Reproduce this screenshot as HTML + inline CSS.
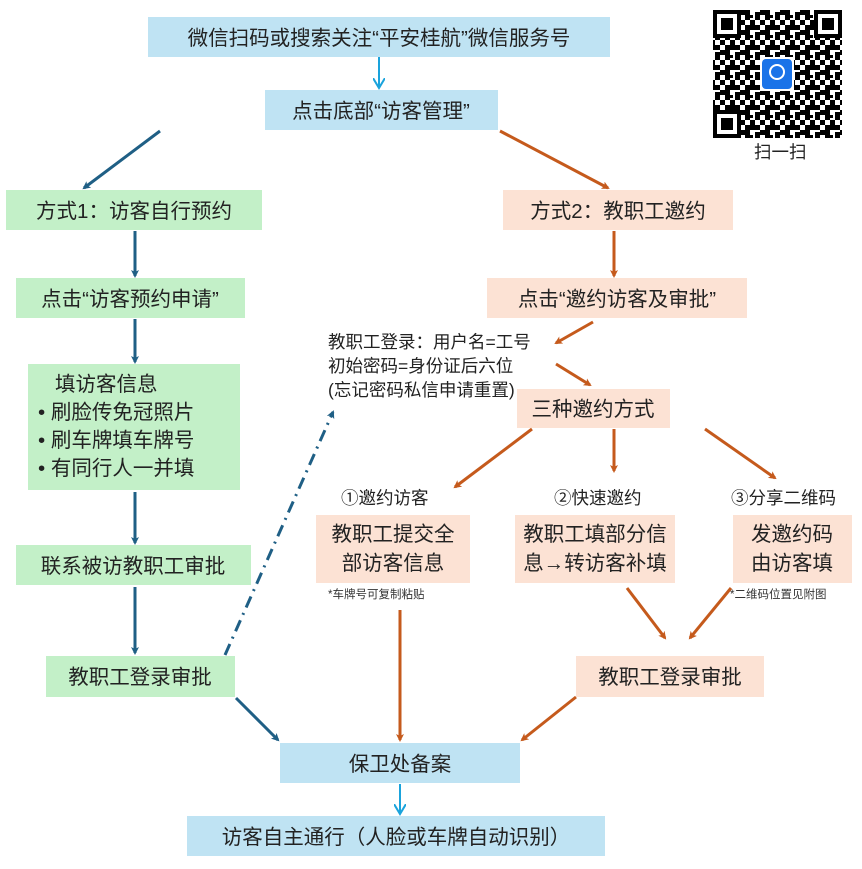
<!DOCTYPE html>
<html><head><meta charset="utf-8"><style>
body{margin:0;background:#fff;}
svg{display:block;font-family:"Liberation Sans","Noto Sans CJK SC",sans-serif;}
</style></head><body>
<svg width="862" height="869" viewBox="0 0 862 869" xmlns="http://www.w3.org/2000/svg">
<defs>
<marker id="ab" markerWidth="8" markerHeight="8" refX="6" refY="4" orient="auto" markerUnits="userSpaceOnUse"><path d="M0,0 L8,4 L0,8 L2,4z" fill="#1f5f85"/></marker>
<marker id="ao" markerWidth="8" markerHeight="8" refX="6" refY="4" orient="auto" markerUnits="userSpaceOnUse"><path d="M0,0 L8,4 L0,8 L2,4z" fill="#c55a1c"/></marker>
<marker id="al" markerWidth="12" markerHeight="12" refX="10" refY="6" orient="auto" markerUnits="userSpaceOnUse"><path d="M0,0 L10,6 L0,12" fill="none" stroke="#1aa3dc" stroke-width="2"/></marker>
<pattern id="qr" width="20" height="20" patternUnits="userSpaceOnUse">
<rect x="0" y="0" width="5" height="5" fill="#000"/><rect x="10" y="0" width="5" height="10" fill="#000"/><rect x="5" y="5" width="5" height="5" fill="#000"/><rect x="15" y="5" width="5" height="5" fill="#000"/><rect x="0" y="10" width="10" height="5" fill="#000"/><rect x="15" y="12" width="5" height="8" fill="#000"/><rect x="5" y="15" width="5" height="5" fill="#000"/><rect x="10" y="15" width="3" height="3" fill="#000"/>
</pattern>
</defs>

<g fill="#bfe3f3">
<rect x="148" y="17" width="462" height="40"/>
<rect x="265" y="90" width="233" height="40"/>
<rect x="280" y="743" width="240" height="40"/>
<rect x="187" y="816" width="418" height="40"/>
</g>
<g fill="#c3f0c8">
<rect x="6" y="190" width="256" height="40"/>
<rect x="16" y="278" width="229" height="40"/>
<rect x="28" y="364" width="212" height="126"/>
<rect x="16" y="545" width="235" height="40"/>
<rect x="46" y="656" width="189" height="41"/>
</g>
<g fill="#fce2d4">
<rect x="503" y="190" width="230" height="40"/>
<rect x="487" y="278" width="260" height="40"/>
<rect x="517" y="389" width="153" height="39"/>
<rect x="316" y="515" width="154" height="68"/>
<rect x="515" y="515" width="160" height="68"/>
<rect x="733" y="515" width="119" height="68"/>
<rect x="576" y="656" width="188" height="41"/>
</g>

<line x1="379" y1="57" x2="379" y2="88" stroke="#1aa3dc" stroke-width="2" marker-end="url(#al)"/>
<g stroke="#1f5f85" stroke-width="3" fill="none">
<line x1="160" y1="131" x2="84" y2="188" marker-end="url(#ab)"/>
<line x1="135" y1="231" x2="135" y2="276" marker-end="url(#ab)"/>
<line x1="135" y1="319" x2="135" y2="362" marker-end="url(#ab)"/>
<line x1="135" y1="492" x2="135" y2="543" marker-end="url(#ab)"/>
<line x1="135" y1="587" x2="135" y2="653" marker-end="url(#ab)"/>
<line x1="236" y1="698" x2="278" y2="740" marker-end="url(#ab)"/>
<line x1="225" y1="655" x2="333" y2="412" stroke-dasharray="12,6,2,6" marker-end="url(#ab)"/>
</g>
<line x1="400" y1="784" x2="400" y2="814" stroke="#1aa3dc" stroke-width="2" marker-end="url(#al)"/>
<g stroke="#c55a1c" stroke-width="3" fill="none">
<line x1="500" y1="131" x2="608" y2="188" marker-end="url(#ao)"/>
<line x1="614" y1="231" x2="614" y2="276" marker-end="url(#ao)"/>
<line x1="593" y1="322" x2="556" y2="343" marker-end="url(#ao)"/>
<line x1="556" y1="364" x2="590" y2="385" marker-end="url(#ao)"/>
<line x1="532" y1="429" x2="455" y2="487" marker-end="url(#ao)"/>
<line x1="614" y1="429" x2="614" y2="471" marker-end="url(#ao)"/>
<line x1="705" y1="429" x2="775" y2="478" marker-end="url(#ao)"/>
<line x1="400" y1="610" x2="400" y2="740" marker-end="url(#ao)"/>
<line x1="627" y1="588" x2="665" y2="638" marker-end="url(#ao)"/>
<line x1="731" y1="588" x2="690" y2="638" marker-end="url(#ao)"/>
<line x1="576" y1="697" x2="522" y2="740" marker-end="url(#ao)"/>
</g>

<g font-size="20.5" fill="#222" text-anchor="middle">
<text x="379" y="45">微信扫码或搜索关注“平安桂航”微信服务号</text>
<text x="381" y="118">点击底部“访客管理”</text>
<text x="134" y="218">方式1：访客自行预约</text>
<text x="618" y="218">方式2：教职工邀约</text>
<text x="130" y="306">点击“访客预约申请”</text>
<text x="617" y="306">点击“邀约访客及审批”</text>
<text x="133" y="573">联系被访教职工审批</text>
<text x="140" y="684">教职工登录审批</text>
<text x="670" y="684">教职工登录审批</text>
<text x="593" y="416">三种邀约方式</text>
<text x="393" y="541">教职工提交全</text>
<text x="393" y="570">部访客信息</text>
<text x="595" y="541">教职工填部分信</text>
<text x="595" y="570">息→转访客补填</text>
<text x="792" y="541">发邀约码</text>
<text x="792" y="570">由访客填</text>
<text x="400" y="771">保卫处备案</text>
<text x="396" y="844">访客自主通行（人脸或车牌自动识别）</text>
</g>
<g font-size="20.5" fill="#222">
<text x="55" y="391">填访客信息</text>
<text x="38" y="419">• 刷脸传免冠照片</text>
<text x="38" y="447">• 刷车牌填车牌号</text>
<text x="38" y="475">• 有同行人一并填</text>
</g>
<g font-size="17.5" fill="#222">
<text x="328" y="348">教职工登录：用户名=工号</text>
<text x="328" y="372">初始密码=身份证后六位</text>
<text x="328" y="396">(忘记密码私信申请重置)</text>
<text x="341" y="504">①邀约访客</text>
<text x="554" y="504">②快速邀约</text>
<text x="731" y="504">③分享二维码</text>
<text x="754" y="158">扫一扫</text>
</g>
<g font-size="11.5" fill="#333">
<text x="328" y="598">*车牌号可复制粘贴</text>
<text x="730" y="598">*二维码位置见附图</text>
</g>

<rect x="713" y="10" width="129" height="128" fill="url(#qr)"/>
<g>
<rect x="713" y="10" width="28" height="28" fill="#fff"/><rect x="715" y="12" width="24" height="24" fill="none" stroke="#000" stroke-width="4"/><rect x="721" y="18" width="12" height="12" fill="#000"/>
<rect x="814" y="10" width="28" height="28" fill="#fff"/><rect x="816" y="12" width="24" height="24" fill="none" stroke="#000" stroke-width="4"/><rect x="822" y="18" width="12" height="12" fill="#000"/>
<rect x="713" y="110" width="28" height="28" fill="#fff"/><rect x="715" y="112" width="24" height="24" fill="none" stroke="#000" stroke-width="4"/><rect x="721" y="118" width="12" height="12" fill="#000"/>
<rect x="760" y="57" width="34" height="34" fill="#fff"/>
<rect x="762" y="59" width="30" height="30" rx="4" fill="#1a73e8"/>
<circle cx="777" cy="72" r="7" fill="none" stroke="#fff" stroke-width="2"/>
</g>
</svg>
</body></html>
